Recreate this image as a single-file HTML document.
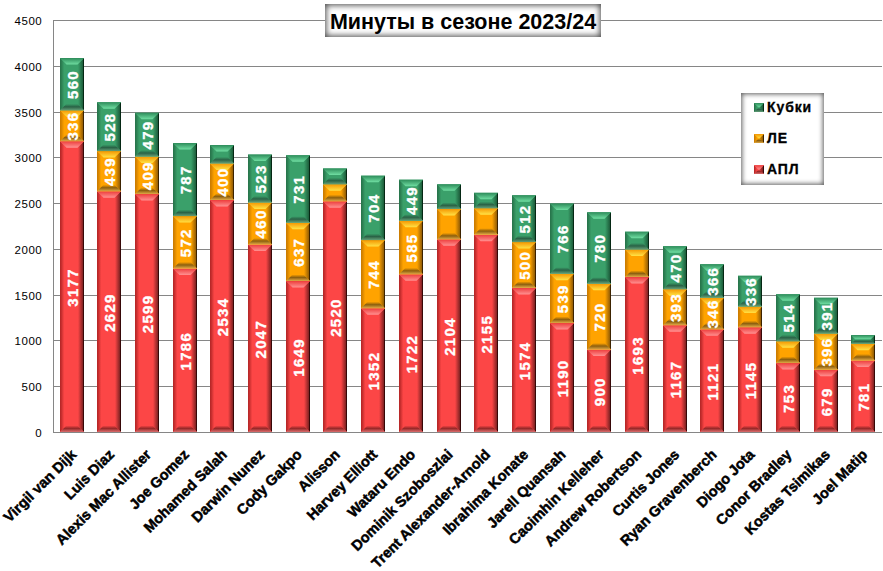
<!DOCTYPE html>
<html><head><meta charset="utf-8"><style>
html,body{margin:0;padding:0;background:#fff;}
body{width:883px;height:571px;overflow:hidden;position:relative;font-family:"Liberation Sans",sans-serif;}
svg{position:absolute;left:0;top:0;}
.dl{font:bold 15px "Liberation Sans",sans-serif;fill:#fff;text-anchor:middle;dominant-baseline:central;letter-spacing:1.3px;stroke:#fff;stroke-width:0.35px;}
.yl{font:11.5px "Liberation Sans",sans-serif;fill:#000;text-anchor:end;letter-spacing:0.5px;}
.xl{position:absolute;white-space:nowrap;font:bold 14.5px "Liberation Sans",sans-serif;color:#000;transform-origin:100% 0;transform:rotate(-45deg);line-height:1;letter-spacing:0px;-webkit-text-stroke:0.5px #000;}
.title{position:absolute;left:325px;top:4px;width:276px;height:33px;background:#fff;box-sizing:border-box;box-shadow:inset 0 0 6px 1px rgba(0,0,0,0.75);font:bold 21.5px "Liberation Sans",sans-serif;line-height:33px;padding-top:2px;text-align:center;color:#000;}
.legend{position:absolute;left:741px;top:93px;width:83px;height:92px;background:#fff;box-shadow:inset 0 0 5px 1px rgba(0,0,0,0.65);}
.li{position:absolute;left:26px;letter-spacing:0.9px;font:bold 14px "Liberation Sans",sans-serif;color:#000;line-height:15px;-webkit-text-stroke:0.3px #000;}
</style></head><body>
<svg width="883" height="571" viewBox="0 0 883 571">
<defs><linearGradient id="tr" x1="0" y1="0" x2="0" y2="1"><stop offset="0" stop-color="rgb(238,60,60)"/><stop offset="1" stop-color="rgb(255,145,145)"/></linearGradient>
<linearGradient id="br" x1="0" y1="0" x2="0" y2="1"><stop offset="0" stop-color="rgb(252,70,70)"/><stop offset="0.45" stop-color="rgb(150,40,40)"/><stop offset="1" stop-color="rgb(220,110,110)"/></linearGradient>
<linearGradient id="rr" x1="0" y1="0" x2="1" y2="0"><stop offset="0" stop-color="rgb(252,70,70)"/><stop offset="0.8" stop-color="rgb(130,35,35)"/><stop offset="0.84" stop-color="rgb(55,8,8)"/><stop offset="1" stop-color="rgb(55,8,8)"/></linearGradient>
<linearGradient id="lr" x1="0" y1="0" x2="1" y2="0"><stop offset="0" stop-color="rgb(185,40,40)"/><stop offset="0.12" stop-color="rgb(185,40,40)"/><stop offset="0.65" stop-color="rgb(252,70,70)"/><stop offset="1" stop-color="rgb(252,70,70)"/></linearGradient><linearGradient id="to" x1="0" y1="0" x2="0" y2="1"><stop offset="0" stop-color="rgb(245,150,0)"/><stop offset="1" stop-color="rgb(255,226,70)"/></linearGradient>
<linearGradient id="bo" x1="0" y1="0" x2="0" y2="1"><stop offset="0" stop-color="rgb(255,163,0)"/><stop offset="0.45" stop-color="rgb(140,95,15)"/><stop offset="1" stop-color="rgb(225,170,70)"/></linearGradient>
<linearGradient id="ro" x1="0" y1="0" x2="1" y2="0"><stop offset="0" stop-color="rgb(255,163,0)"/><stop offset="0.8" stop-color="rgb(150,95,5)"/><stop offset="0.84" stop-color="rgb(60,35,0)"/><stop offset="1" stop-color="rgb(60,35,0)"/></linearGradient>
<linearGradient id="lo" x1="0" y1="0" x2="1" y2="0"><stop offset="0" stop-color="rgb(205,125,0)"/><stop offset="0.12" stop-color="rgb(205,125,0)"/><stop offset="0.65" stop-color="rgb(255,163,0)"/><stop offset="1" stop-color="rgb(255,163,0)"/></linearGradient><linearGradient id="tg" x1="0" y1="0" x2="0" y2="1"><stop offset="0" stop-color="rgb(45,140,90)"/><stop offset="1" stop-color="rgb(112,222,162)"/></linearGradient>
<linearGradient id="bg" x1="0" y1="0" x2="0" y2="1"><stop offset="0" stop-color="rgb(58,160,106)"/><stop offset="0.45" stop-color="rgb(42,98,70)"/><stop offset="1" stop-color="rgb(100,160,120)"/></linearGradient>
<linearGradient id="rg" x1="0" y1="0" x2="1" y2="0"><stop offset="0" stop-color="rgb(58,160,106)"/><stop offset="0.8" stop-color="rgb(30,95,60)"/><stop offset="0.84" stop-color="rgb(5,40,20)"/><stop offset="1" stop-color="rgb(5,40,20)"/></linearGradient>
<linearGradient id="lg" x1="0" y1="0" x2="1" y2="0"><stop offset="0" stop-color="rgb(40,118,76)"/><stop offset="0.12" stop-color="rgb(40,118,76)"/><stop offset="0.65" stop-color="rgb(58,160,106)"/><stop offset="1" stop-color="rgb(58,160,106)"/></linearGradient></defs>
<line x1="53" y1="432.50" x2="882" y2="432.50" stroke="#868686" stroke-width="1"/><line x1="53" y1="386.50" x2="882" y2="386.50" stroke="#868686" stroke-width="1"/><line x1="53" y1="340.50" x2="882" y2="340.50" stroke="#868686" stroke-width="1"/><line x1="53" y1="295.50" x2="882" y2="295.50" stroke="#868686" stroke-width="1"/><line x1="53" y1="249.50" x2="882" y2="249.50" stroke="#868686" stroke-width="1"/><line x1="53" y1="203.50" x2="882" y2="203.50" stroke="#868686" stroke-width="1"/><line x1="53" y1="157.50" x2="882" y2="157.50" stroke="#868686" stroke-width="1"/><line x1="53" y1="112.50" x2="882" y2="112.50" stroke="#868686" stroke-width="1"/><line x1="53" y1="66.50" x2="882" y2="66.50" stroke="#868686" stroke-width="1"/><line x1="53" y1="20.50" x2="882" y2="20.50" stroke="#868686" stroke-width="1"/><line x1="53.5" y1="20" x2="53.5" y2="433" stroke="#868686" stroke-width="1"/><rect x="60.00" y="141.13" width="24.00" height="290.87" fill="rgb(252,70,70)"/><polygon points="60.00,141.13 66.50,147.63 66.50,425.50 60.00,432.00" fill="url(#lr)"/><polygon points="84.00,141.13 78.00,147.13 78.00,426.00 84.00,432.00" fill="url(#rr)"/><polygon points="60.00,141.13 84.00,141.13 77.50,147.63 66.50,147.63" fill="url(#tr)"/><polygon points="60.00,432.00 84.00,432.00 77.50,425.50 66.50,425.50" fill="url(#br)"/><rect x="60.00" y="110.37" width="24.00" height="30.76" fill="rgb(255,163,0)"/><polygon points="60.00,110.37 66.50,116.87 66.50,134.63 60.00,141.13" fill="url(#lo)"/><polygon points="84.00,110.37 78.00,116.37 78.00,135.13 84.00,141.13" fill="url(#ro)"/><polygon points="60.00,110.37 84.00,110.37 77.50,116.87 66.50,116.87" fill="url(#to)"/><polygon points="60.00,141.13 84.00,141.13 77.50,134.63 66.50,134.63" fill="url(#bo)"/><rect x="60.00" y="58.09" width="24.00" height="52.28" fill="rgb(58,160,106)"/><polygon points="60.00,58.09 66.50,64.59 66.50,103.87 60.00,110.37" fill="url(#lg)"/><polygon points="84.00,58.09 78.00,64.09 78.00,104.37 84.00,110.37" fill="url(#rg)"/><polygon points="60.00,58.09 84.00,58.09 77.50,64.59 66.50,64.59" fill="url(#tg)"/><polygon points="60.00,110.37 84.00,110.37 77.50,103.87 66.50,103.87" fill="url(#bg)"/><rect x="97.00" y="191.30" width="24.00" height="240.70" fill="rgb(252,70,70)"/><polygon points="97.00,191.30 103.50,197.80 103.50,425.50 97.00,432.00" fill="url(#lr)"/><polygon points="121.00,191.30 115.00,197.30 115.00,426.00 121.00,432.00" fill="url(#rr)"/><polygon points="97.00,191.30 121.00,191.30 114.50,197.80 103.50,197.80" fill="url(#tr)"/><polygon points="97.00,432.00 121.00,432.00 114.50,425.50 103.50,425.50" fill="url(#br)"/><rect x="97.00" y="151.11" width="24.00" height="40.19" fill="rgb(255,163,0)"/><polygon points="97.00,151.11 103.50,157.61 103.50,184.80 97.00,191.30" fill="url(#lo)"/><polygon points="121.00,151.11 115.00,157.11 115.00,185.30 121.00,191.30" fill="url(#ro)"/><polygon points="97.00,151.11 121.00,151.11 114.50,157.61 103.50,157.61" fill="url(#to)"/><polygon points="97.00,191.30 121.00,191.30 114.50,184.80 103.50,184.80" fill="url(#bo)"/><rect x="97.00" y="102.22" width="24.00" height="48.89" fill="rgb(58,160,106)"/><polygon points="97.00,102.22 103.50,108.72 103.50,144.61 97.00,151.11" fill="url(#lg)"/><polygon points="121.00,102.22 115.00,108.22 115.00,145.11 121.00,151.11" fill="url(#rg)"/><polygon points="97.00,102.22 121.00,102.22 114.50,108.72 103.50,108.72" fill="url(#tg)"/><polygon points="97.00,151.11 121.00,151.11 114.50,144.61 103.50,144.61" fill="url(#bg)"/><rect x="135.00" y="194.05" width="24.00" height="237.95" fill="rgb(252,70,70)"/><polygon points="135.00,194.05 141.50,200.55 141.50,425.50 135.00,432.00" fill="url(#lr)"/><polygon points="159.00,194.05 153.00,200.05 153.00,426.00 159.00,432.00" fill="url(#rr)"/><polygon points="135.00,194.05 159.00,194.05 152.50,200.55 141.50,200.55" fill="url(#tr)"/><polygon points="135.00,432.00 159.00,432.00 152.50,425.50 141.50,425.50" fill="url(#br)"/><rect x="135.00" y="156.60" width="24.00" height="37.45" fill="rgb(255,163,0)"/><polygon points="135.00,156.60 141.50,163.10 141.50,187.55 135.00,194.05" fill="url(#lo)"/><polygon points="159.00,156.60 153.00,162.60 153.00,188.05 159.00,194.05" fill="url(#ro)"/><polygon points="135.00,156.60 159.00,156.60 152.50,163.10 141.50,163.10" fill="url(#to)"/><polygon points="135.00,194.05 159.00,194.05 152.50,187.55 141.50,187.55" fill="url(#bo)"/><rect x="135.00" y="112.75" width="24.00" height="43.86" fill="rgb(58,160,106)"/><polygon points="135.00,112.75 141.50,119.25 141.50,150.10 135.00,156.60" fill="url(#lg)"/><polygon points="159.00,112.75 153.00,118.75 153.00,150.60 159.00,156.60" fill="url(#rg)"/><polygon points="135.00,112.75 159.00,112.75 152.50,119.25 141.50,119.25" fill="url(#tg)"/><polygon points="135.00,156.60 159.00,156.60 152.50,150.10 141.50,150.10" fill="url(#bg)"/><rect x="173.00" y="268.48" width="24.00" height="163.52" fill="rgb(252,70,70)"/><polygon points="173.00,268.48 179.50,274.98 179.50,425.50 173.00,432.00" fill="url(#lr)"/><polygon points="197.00,268.48 191.00,274.48 191.00,426.00 197.00,432.00" fill="url(#rr)"/><polygon points="173.00,268.48 197.00,268.48 190.50,274.98 179.50,274.98" fill="url(#tr)"/><polygon points="173.00,432.00 197.00,432.00 190.50,425.50 179.50,425.50" fill="url(#br)"/><rect x="173.00" y="216.11" width="24.00" height="52.37" fill="rgb(255,163,0)"/><polygon points="173.00,216.11 179.50,222.61 179.50,261.98 173.00,268.48" fill="url(#lo)"/><polygon points="197.00,216.11 191.00,222.11 191.00,262.48 197.00,268.48" fill="url(#ro)"/><polygon points="173.00,216.11 197.00,216.11 190.50,222.61 179.50,222.61" fill="url(#to)"/><polygon points="173.00,268.48 197.00,268.48 190.50,261.98 179.50,261.98" fill="url(#bo)"/><rect x="173.00" y="143.05" width="24.00" height="73.06" fill="rgb(58,160,106)"/><polygon points="173.00,143.05 179.50,149.55 179.50,209.61 173.00,216.11" fill="url(#lg)"/><polygon points="197.00,143.05 191.00,149.05 191.00,210.11 197.00,216.11" fill="url(#rg)"/><polygon points="173.00,143.05 197.00,143.05 190.50,149.55 179.50,149.55" fill="url(#tg)"/><polygon points="173.00,216.11 197.00,216.11 190.50,209.61 179.50,209.61" fill="url(#bg)"/><rect x="210.00" y="200.00" width="24.00" height="232.00" fill="rgb(252,70,70)"/><polygon points="210.00,200.00 216.50,206.50 216.50,425.50 210.00,432.00" fill="url(#lr)"/><polygon points="234.00,200.00 228.00,206.00 228.00,426.00 234.00,432.00" fill="url(#rr)"/><polygon points="210.00,200.00 234.00,200.00 227.50,206.50 216.50,206.50" fill="url(#tr)"/><polygon points="210.00,432.00 234.00,432.00 227.50,425.50 216.50,425.50" fill="url(#br)"/><rect x="210.00" y="163.38" width="24.00" height="36.62" fill="rgb(255,163,0)"/><polygon points="210.00,163.38 216.50,169.88 216.50,193.50 210.00,200.00" fill="url(#lo)"/><polygon points="234.00,163.38 228.00,169.38 228.00,194.00 234.00,200.00" fill="url(#ro)"/><polygon points="210.00,163.38 234.00,163.38 227.50,169.88 216.50,169.88" fill="url(#to)"/><polygon points="210.00,200.00 234.00,200.00 227.50,193.50 216.50,193.50" fill="url(#bo)"/><rect x="210.00" y="145.06" width="24.00" height="18.31" fill="rgb(58,160,106)"/><polygon points="210.00,145.06 216.50,151.56 216.50,156.88 210.00,163.38" fill="url(#lg)"/><polygon points="234.00,145.06 228.00,151.06 228.00,157.38 234.00,163.38" fill="url(#rg)"/><polygon points="210.00,145.06 234.00,145.06 227.50,151.56 216.50,151.56" fill="url(#tg)"/><polygon points="210.00,163.38 234.00,163.38 227.50,156.88 216.50,156.88" fill="url(#bg)"/><rect x="248.00" y="244.59" width="24.00" height="187.41" fill="rgb(252,70,70)"/><polygon points="248.00,244.59 254.50,251.09 254.50,425.50 248.00,432.00" fill="url(#lr)"/><polygon points="272.00,244.59 266.00,250.59 266.00,426.00 272.00,432.00" fill="url(#rr)"/><polygon points="248.00,244.59 272.00,244.59 265.50,251.09 254.50,251.09" fill="url(#tr)"/><polygon points="248.00,432.00 272.00,432.00 265.50,425.50 254.50,425.50" fill="url(#br)"/><rect x="248.00" y="202.47" width="24.00" height="42.12" fill="rgb(255,163,0)"/><polygon points="248.00,202.47 254.50,208.97 254.50,238.09 248.00,244.59" fill="url(#lo)"/><polygon points="272.00,202.47 266.00,208.47 266.00,238.59 272.00,244.59" fill="url(#ro)"/><polygon points="248.00,202.47 272.00,202.47 265.50,208.97 254.50,208.97" fill="url(#to)"/><polygon points="248.00,244.59 272.00,244.59 265.50,238.09 254.50,238.09" fill="url(#bo)"/><rect x="248.00" y="154.59" width="24.00" height="47.88" fill="rgb(58,160,106)"/><polygon points="248.00,154.59 254.50,161.09 254.50,195.97 248.00,202.47" fill="url(#lg)"/><polygon points="272.00,154.59 266.00,160.59 266.00,196.47 272.00,202.47" fill="url(#rg)"/><polygon points="248.00,154.59 272.00,154.59 265.50,161.09 254.50,161.09" fill="url(#tg)"/><polygon points="248.00,202.47 272.00,202.47 265.50,195.97 254.50,195.97" fill="url(#bg)"/><rect x="286.00" y="281.02" width="24.00" height="150.98" fill="rgb(252,70,70)"/><polygon points="286.00,281.02 292.50,287.52 292.50,425.50 286.00,432.00" fill="url(#lr)"/><polygon points="310.00,281.02 304.00,287.02 304.00,426.00 310.00,432.00" fill="url(#rr)"/><polygon points="286.00,281.02 310.00,281.02 303.50,287.52 292.50,287.52" fill="url(#tr)"/><polygon points="286.00,432.00 310.00,432.00 303.50,425.50 292.50,425.50" fill="url(#br)"/><rect x="286.00" y="222.70" width="24.00" height="58.32" fill="rgb(255,163,0)"/><polygon points="286.00,222.70 292.50,229.20 292.50,274.52 286.00,281.02" fill="url(#lo)"/><polygon points="310.00,222.70 304.00,228.70 304.00,275.02 310.00,281.02" fill="url(#ro)"/><polygon points="286.00,222.70 310.00,222.70 303.50,229.20 292.50,229.20" fill="url(#to)"/><polygon points="286.00,281.02 310.00,281.02 303.50,274.52 292.50,274.52" fill="url(#bo)"/><rect x="286.00" y="155.23" width="24.00" height="67.48" fill="rgb(58,160,106)"/><polygon points="286.00,155.23 292.50,161.73 292.50,216.20 286.00,222.70" fill="url(#lg)"/><polygon points="310.00,155.23 304.00,161.23 304.00,216.70 310.00,222.70" fill="url(#rg)"/><polygon points="286.00,155.23 310.00,155.23 303.50,161.73 292.50,161.73" fill="url(#tg)"/><polygon points="286.00,222.70 310.00,222.70 303.50,216.20 292.50,216.20" fill="url(#bg)"/><rect x="323.00" y="201.28" width="24.00" height="230.72" fill="rgb(252,70,70)"/><polygon points="323.00,201.28 329.50,207.78 329.50,425.50 323.00,432.00" fill="url(#lr)"/><polygon points="347.00,201.28 341.00,207.28 341.00,426.00 347.00,432.00" fill="url(#rr)"/><polygon points="323.00,201.28 347.00,201.28 340.50,207.78 329.50,207.78" fill="url(#tr)"/><polygon points="323.00,432.00 347.00,432.00 340.50,425.50 329.50,425.50" fill="url(#br)"/><rect x="323.00" y="184.25" width="24.00" height="17.03" fill="rgb(255,163,0)"/><polygon points="323.00,184.25 329.50,190.75 329.50,194.78 323.00,201.28" fill="url(#lo)"/><polygon points="347.00,184.25 341.00,190.25 341.00,195.28 347.00,201.28" fill="url(#ro)"/><polygon points="323.00,184.25 347.00,184.25 340.50,190.75 329.50,190.75" fill="url(#to)"/><polygon points="323.00,201.28 347.00,201.28 340.50,194.78 329.50,194.78" fill="url(#bo)"/><rect x="323.00" y="168.41" width="24.00" height="15.84" fill="rgb(58,160,106)"/><polygon points="323.00,168.41 329.50,174.91 329.50,177.75 323.00,184.25" fill="url(#lg)"/><polygon points="347.00,168.41 341.00,174.41 341.00,178.25 347.00,184.25" fill="url(#rg)"/><polygon points="323.00,168.41 347.00,168.41 340.50,174.91 329.50,174.91" fill="url(#tg)"/><polygon points="323.00,184.25 347.00,184.25 340.50,177.75 329.50,177.75" fill="url(#bg)"/><rect x="361.00" y="308.22" width="24.00" height="123.78" fill="rgb(252,70,70)"/><polygon points="361.00,308.22 367.50,314.72 367.50,425.50 361.00,432.00" fill="url(#lr)"/><polygon points="385.00,308.22 379.00,314.22 379.00,426.00 385.00,432.00" fill="url(#rr)"/><polygon points="361.00,308.22 385.00,308.22 378.50,314.72 367.50,314.72" fill="url(#tr)"/><polygon points="361.00,432.00 385.00,432.00 378.50,425.50 367.50,425.50" fill="url(#br)"/><rect x="361.00" y="240.10" width="24.00" height="68.12" fill="rgb(255,163,0)"/><polygon points="361.00,240.10 367.50,246.60 367.50,301.72 361.00,308.22" fill="url(#lo)"/><polygon points="385.00,240.10 379.00,246.10 379.00,302.22 385.00,308.22" fill="url(#ro)"/><polygon points="361.00,240.10 385.00,240.10 378.50,246.60 367.50,246.60" fill="url(#to)"/><polygon points="361.00,308.22 385.00,308.22 378.50,301.72 367.50,301.72" fill="url(#bo)"/><rect x="361.00" y="175.64" width="24.00" height="64.46" fill="rgb(58,160,106)"/><polygon points="361.00,175.64 367.50,182.14 367.50,233.60 361.00,240.10" fill="url(#lg)"/><polygon points="385.00,175.64 379.00,181.64 379.00,234.10 385.00,240.10" fill="url(#rg)"/><polygon points="361.00,175.64 385.00,175.64 378.50,182.14 367.50,182.14" fill="url(#tg)"/><polygon points="361.00,240.10 385.00,240.10 378.50,233.60 367.50,233.60" fill="url(#bg)"/><rect x="399.00" y="274.34" width="24.00" height="157.66" fill="rgb(252,70,70)"/><polygon points="399.00,274.34 405.50,280.84 405.50,425.50 399.00,432.00" fill="url(#lr)"/><polygon points="423.00,274.34 417.00,280.34 417.00,426.00 423.00,432.00" fill="url(#rr)"/><polygon points="399.00,274.34 423.00,274.34 416.50,280.84 405.50,280.84" fill="url(#tr)"/><polygon points="399.00,432.00 423.00,432.00 416.50,425.50 405.50,425.50" fill="url(#br)"/><rect x="399.00" y="220.78" width="24.00" height="53.56" fill="rgb(255,163,0)"/><polygon points="399.00,220.78 405.50,227.28 405.50,267.84 399.00,274.34" fill="url(#lo)"/><polygon points="423.00,220.78 417.00,226.78 417.00,268.34 423.00,274.34" fill="url(#ro)"/><polygon points="399.00,220.78 423.00,220.78 416.50,227.28 405.50,227.28" fill="url(#to)"/><polygon points="399.00,274.34 423.00,274.34 416.50,267.84 405.50,267.84" fill="url(#bo)"/><rect x="399.00" y="179.67" width="24.00" height="41.11" fill="rgb(58,160,106)"/><polygon points="399.00,179.67 405.50,186.17 405.50,214.28 399.00,220.78" fill="url(#lg)"/><polygon points="423.00,179.67 417.00,185.67 417.00,214.78 423.00,220.78" fill="url(#rg)"/><polygon points="399.00,179.67 423.00,179.67 416.50,186.17 405.50,186.17" fill="url(#tg)"/><polygon points="399.00,220.78 423.00,220.78 416.50,214.28 405.50,214.28" fill="url(#bg)"/><rect x="437.00" y="239.37" width="24.00" height="192.63" fill="rgb(252,70,70)"/><polygon points="437.00,239.37 443.50,245.87 443.50,425.50 437.00,432.00" fill="url(#lr)"/><polygon points="461.00,239.37 455.00,245.37 455.00,426.00 461.00,432.00" fill="url(#rr)"/><polygon points="437.00,239.37 461.00,239.37 454.50,245.87 443.50,245.87" fill="url(#tr)"/><polygon points="437.00,432.00 461.00,432.00 454.50,425.50 443.50,425.50" fill="url(#br)"/><rect x="437.00" y="208.97" width="24.00" height="30.40" fill="rgb(255,163,0)"/><polygon points="437.00,208.97 443.50,215.47 443.50,232.87 437.00,239.37" fill="url(#lo)"/><polygon points="461.00,208.97 455.00,214.97 455.00,233.37 461.00,239.37" fill="url(#ro)"/><polygon points="437.00,208.97 461.00,208.97 454.50,215.47 443.50,215.47" fill="url(#to)"/><polygon points="437.00,239.37 461.00,239.37 454.50,232.87 443.50,232.87" fill="url(#bo)"/><rect x="437.00" y="184.34" width="24.00" height="24.63" fill="rgb(58,160,106)"/><polygon points="437.00,184.34 443.50,190.84 443.50,202.47 437.00,208.97" fill="url(#lg)"/><polygon points="461.00,184.34 455.00,190.34 455.00,202.97 461.00,208.97" fill="url(#rg)"/><polygon points="437.00,184.34 461.00,184.34 454.50,190.84 443.50,190.84" fill="url(#tg)"/><polygon points="437.00,208.97 461.00,208.97 454.50,202.47 443.50,202.47" fill="url(#bg)"/><rect x="474.00" y="234.70" width="24.00" height="197.30" fill="rgb(252,70,70)"/><polygon points="474.00,234.70 480.50,241.20 480.50,425.50 474.00,432.00" fill="url(#lr)"/><polygon points="498.00,234.70 492.00,240.70 492.00,426.00 498.00,432.00" fill="url(#rr)"/><polygon points="474.00,234.70 498.00,234.70 491.50,241.20 480.50,241.20" fill="url(#tr)"/><polygon points="474.00,432.00 498.00,432.00 491.50,425.50 480.50,425.50" fill="url(#br)"/><rect x="474.00" y="208.15" width="24.00" height="26.55" fill="rgb(255,163,0)"/><polygon points="474.00,208.15 480.50,214.65 480.50,228.20 474.00,234.70" fill="url(#lo)"/><polygon points="498.00,208.15 492.00,214.15 492.00,228.70 498.00,234.70" fill="url(#ro)"/><polygon points="474.00,208.15 498.00,208.15 491.50,214.65 480.50,214.65" fill="url(#to)"/><polygon points="474.00,234.70 498.00,234.70 491.50,228.20 480.50,228.20" fill="url(#bo)"/><rect x="474.00" y="192.86" width="24.00" height="15.29" fill="rgb(58,160,106)"/><polygon points="474.00,192.86 480.50,199.36 480.50,201.65 474.00,208.15" fill="url(#lg)"/><polygon points="498.00,192.86 492.00,198.86 492.00,202.15 498.00,208.15" fill="url(#rg)"/><polygon points="474.00,192.86 498.00,192.86 491.50,199.36 480.50,199.36" fill="url(#tg)"/><polygon points="474.00,208.15 498.00,208.15 491.50,201.65 480.50,201.65" fill="url(#bg)"/><rect x="512.00" y="287.89" width="24.00" height="144.11" fill="rgb(252,70,70)"/><polygon points="512.00,287.89 518.50,294.39 518.50,425.50 512.00,432.00" fill="url(#lr)"/><polygon points="536.00,287.89 530.00,293.89 530.00,426.00 536.00,432.00" fill="url(#rr)"/><polygon points="512.00,287.89 536.00,287.89 529.50,294.39 518.50,294.39" fill="url(#tr)"/><polygon points="512.00,432.00 536.00,432.00 529.50,425.50 518.50,425.50" fill="url(#br)"/><rect x="512.00" y="242.11" width="24.00" height="45.78" fill="rgb(255,163,0)"/><polygon points="512.00,242.11 518.50,248.61 518.50,281.39 512.00,287.89" fill="url(#lo)"/><polygon points="536.00,242.11 530.00,248.11 530.00,281.89 536.00,287.89" fill="url(#ro)"/><polygon points="512.00,242.11 536.00,242.11 529.50,248.61 518.50,248.61" fill="url(#to)"/><polygon points="512.00,287.89 536.00,287.89 529.50,281.39 518.50,281.39" fill="url(#bo)"/><rect x="512.00" y="195.24" width="24.00" height="46.88" fill="rgb(58,160,106)"/><polygon points="512.00,195.24 518.50,201.74 518.50,235.61 512.00,242.11" fill="url(#lg)"/><polygon points="536.00,195.24 530.00,201.24 530.00,236.11 536.00,242.11" fill="url(#rg)"/><polygon points="512.00,195.24 536.00,195.24 529.50,201.74 518.50,201.74" fill="url(#tg)"/><polygon points="512.00,242.11 536.00,242.11 529.50,235.61 518.50,235.61" fill="url(#bg)"/><rect x="550.00" y="323.05" width="24.00" height="108.95" fill="rgb(252,70,70)"/><polygon points="550.00,323.05 556.50,329.55 556.50,425.50 550.00,432.00" fill="url(#lr)"/><polygon points="574.00,323.05 568.00,329.05 568.00,426.00 574.00,432.00" fill="url(#rr)"/><polygon points="550.00,323.05 574.00,323.05 567.50,329.55 556.50,329.55" fill="url(#tr)"/><polygon points="550.00,432.00 574.00,432.00 567.50,425.50 556.50,425.50" fill="url(#br)"/><rect x="550.00" y="273.70" width="24.00" height="49.35" fill="rgb(255,163,0)"/><polygon points="550.00,273.70 556.50,280.20 556.50,316.55 550.00,323.05" fill="url(#lo)"/><polygon points="574.00,273.70 568.00,279.70 568.00,317.05 574.00,323.05" fill="url(#ro)"/><polygon points="550.00,273.70 574.00,273.70 567.50,280.20 556.50,280.20" fill="url(#to)"/><polygon points="550.00,323.05 574.00,323.05 567.50,316.55 556.50,316.55" fill="url(#bo)"/><rect x="550.00" y="203.57" width="24.00" height="70.13" fill="rgb(58,160,106)"/><polygon points="550.00,203.57 556.50,210.07 556.50,267.20 550.00,273.70" fill="url(#lg)"/><polygon points="574.00,203.57 568.00,209.57 568.00,267.70 574.00,273.70" fill="url(#rg)"/><polygon points="550.00,203.57 574.00,203.57 567.50,210.07 556.50,210.07" fill="url(#tg)"/><polygon points="550.00,273.70 574.00,273.70 567.50,267.20 556.50,267.20" fill="url(#bg)"/><rect x="587.00" y="349.60" width="24.00" height="82.40" fill="rgb(252,70,70)"/><polygon points="587.00,349.60 593.50,356.10 593.50,425.50 587.00,432.00" fill="url(#lr)"/><polygon points="611.00,349.60 605.00,355.60 605.00,426.00 611.00,432.00" fill="url(#rr)"/><polygon points="587.00,349.60 611.00,349.60 604.50,356.10 593.50,356.10" fill="url(#tr)"/><polygon points="587.00,432.00 611.00,432.00 604.50,425.50 593.50,425.50" fill="url(#br)"/><rect x="587.00" y="283.68" width="24.00" height="65.92" fill="rgb(255,163,0)"/><polygon points="587.00,283.68 593.50,290.18 593.50,343.10 587.00,349.60" fill="url(#lo)"/><polygon points="611.00,283.68 605.00,289.68 605.00,343.60 611.00,349.60" fill="url(#ro)"/><polygon points="587.00,283.68 611.00,283.68 604.50,290.18 593.50,290.18" fill="url(#to)"/><polygon points="587.00,349.60 611.00,349.60 604.50,343.10 593.50,343.10" fill="url(#bo)"/><rect x="587.00" y="212.27" width="24.00" height="71.41" fill="rgb(58,160,106)"/><polygon points="587.00,212.27 593.50,218.77 593.50,277.18 587.00,283.68" fill="url(#lg)"/><polygon points="611.00,212.27 605.00,218.27 605.00,277.68 611.00,283.68" fill="url(#rg)"/><polygon points="587.00,212.27 611.00,212.27 604.50,218.77 593.50,218.77" fill="url(#tg)"/><polygon points="587.00,283.68 611.00,283.68 604.50,277.18 593.50,277.18" fill="url(#bg)"/><rect x="625.00" y="277.00" width="24.00" height="155.00" fill="rgb(252,70,70)"/><polygon points="625.00,277.00 631.50,283.50 631.50,425.50 625.00,432.00" fill="url(#lr)"/><polygon points="649.00,277.00 643.00,283.00 643.00,426.00 649.00,432.00" fill="url(#rr)"/><polygon points="625.00,277.00 649.00,277.00 642.50,283.50 631.50,283.50" fill="url(#tr)"/><polygon points="625.00,432.00 649.00,432.00 642.50,425.50 631.50,425.50" fill="url(#br)"/><rect x="625.00" y="249.44" width="24.00" height="27.56" fill="rgb(255,163,0)"/><polygon points="625.00,249.44 631.50,255.94 631.50,270.50 625.00,277.00" fill="url(#lo)"/><polygon points="649.00,249.44 643.00,255.44 643.00,271.00 649.00,277.00" fill="url(#ro)"/><polygon points="625.00,249.44 649.00,249.44 642.50,255.94 631.50,255.94" fill="url(#to)"/><polygon points="625.00,277.00 649.00,277.00 642.50,270.50 631.50,270.50" fill="url(#bo)"/><rect x="625.00" y="231.68" width="24.00" height="17.76" fill="rgb(58,160,106)"/><polygon points="625.00,231.68 631.50,238.18 631.50,242.94 625.00,249.44" fill="url(#lg)"/><polygon points="649.00,231.68 643.00,237.68 643.00,243.44 649.00,249.44" fill="url(#rg)"/><polygon points="625.00,231.68 649.00,231.68 642.50,238.18 631.50,238.18" fill="url(#tg)"/><polygon points="625.00,249.44 649.00,249.44 642.50,242.94 631.50,242.94" fill="url(#bg)"/><rect x="663.00" y="325.15" width="24.00" height="106.85" fill="rgb(252,70,70)"/><polygon points="663.00,325.15 669.50,331.65 669.50,425.50 663.00,432.00" fill="url(#lr)"/><polygon points="687.00,325.15 681.00,331.15 681.00,426.00 687.00,432.00" fill="url(#rr)"/><polygon points="663.00,325.15 687.00,325.15 680.50,331.65 669.50,331.65" fill="url(#tr)"/><polygon points="663.00,432.00 687.00,432.00 680.50,425.50 669.50,425.50" fill="url(#br)"/><rect x="663.00" y="289.17" width="24.00" height="35.98" fill="rgb(255,163,0)"/><polygon points="663.00,289.17 669.50,295.67 669.50,318.65 663.00,325.15" fill="url(#lo)"/><polygon points="687.00,289.17 681.00,295.17 681.00,319.15 687.00,325.15" fill="url(#ro)"/><polygon points="663.00,289.17 687.00,289.17 680.50,295.67 669.50,295.67" fill="url(#to)"/><polygon points="663.00,325.15 687.00,325.15 680.50,318.65 669.50,318.65" fill="url(#bo)"/><rect x="663.00" y="246.14" width="24.00" height="43.03" fill="rgb(58,160,106)"/><polygon points="663.00,246.14 669.50,252.64 669.50,282.67 663.00,289.17" fill="url(#lg)"/><polygon points="687.00,246.14 681.00,252.14 681.00,283.17 687.00,289.17" fill="url(#rg)"/><polygon points="663.00,246.14 687.00,246.14 680.50,252.64 669.50,252.64" fill="url(#tg)"/><polygon points="663.00,289.17 687.00,289.17 680.50,282.67 669.50,282.67" fill="url(#bg)"/><rect x="700.00" y="329.37" width="24.00" height="102.63" fill="rgb(252,70,70)"/><polygon points="700.00,329.37 706.50,335.87 706.50,425.50 700.00,432.00" fill="url(#lr)"/><polygon points="724.00,329.37 718.00,335.37 718.00,426.00 724.00,432.00" fill="url(#rr)"/><polygon points="700.00,329.37 724.00,329.37 717.50,335.87 706.50,335.87" fill="url(#tr)"/><polygon points="700.00,432.00 724.00,432.00 717.50,425.50 706.50,425.50" fill="url(#br)"/><rect x="700.00" y="297.69" width="24.00" height="31.68" fill="rgb(255,163,0)"/><polygon points="700.00,297.69 706.50,304.19 706.50,322.87 700.00,329.37" fill="url(#lo)"/><polygon points="724.00,297.69 718.00,303.69 718.00,323.37 724.00,329.37" fill="url(#ro)"/><polygon points="700.00,297.69 724.00,297.69 717.50,304.19 706.50,304.19" fill="url(#to)"/><polygon points="700.00,329.37 724.00,329.37 717.50,322.87 706.50,322.87" fill="url(#bo)"/><rect x="700.00" y="264.18" width="24.00" height="33.51" fill="rgb(58,160,106)"/><polygon points="700.00,264.18 706.50,270.68 706.50,291.19 700.00,297.69" fill="url(#lg)"/><polygon points="724.00,264.18 718.00,270.18 718.00,291.69 724.00,297.69" fill="url(#rg)"/><polygon points="700.00,264.18 724.00,264.18 717.50,270.68 706.50,270.68" fill="url(#tg)"/><polygon points="700.00,297.69 724.00,297.69 717.50,291.19 706.50,291.19" fill="url(#bg)"/><rect x="738.00" y="327.17" width="24.00" height="104.83" fill="rgb(252,70,70)"/><polygon points="738.00,327.17 744.50,333.67 744.50,425.50 738.00,432.00" fill="url(#lr)"/><polygon points="762.00,327.17 756.00,333.17 756.00,426.00 762.00,432.00" fill="url(#rr)"/><polygon points="738.00,327.17 762.00,327.17 755.50,333.67 744.50,333.67" fill="url(#tr)"/><polygon points="738.00,432.00 762.00,432.00 755.50,425.50 744.50,425.50" fill="url(#br)"/><rect x="738.00" y="306.57" width="24.00" height="20.60" fill="rgb(255,163,0)"/><polygon points="738.00,306.57 744.50,313.07 744.50,320.67 738.00,327.17" fill="url(#lo)"/><polygon points="762.00,306.57 756.00,312.57 756.00,321.17 762.00,327.17" fill="url(#ro)"/><polygon points="738.00,306.57 762.00,306.57 755.50,313.07 744.50,313.07" fill="url(#to)"/><polygon points="738.00,327.17 762.00,327.17 755.50,320.67 744.50,320.67" fill="url(#bo)"/><rect x="738.00" y="275.81" width="24.00" height="30.76" fill="rgb(58,160,106)"/><polygon points="738.00,275.81 744.50,282.31 744.50,300.07 738.00,306.57" fill="url(#lg)"/><polygon points="762.00,275.81 756.00,281.81 756.00,300.57 762.00,306.57" fill="url(#rg)"/><polygon points="738.00,275.81 762.00,275.81 755.50,282.31 744.50,282.31" fill="url(#tg)"/><polygon points="738.00,306.57 762.00,306.57 755.50,300.07 744.50,300.07" fill="url(#bg)"/><rect x="776.00" y="363.06" width="24.00" height="68.94" fill="rgb(252,70,70)"/><polygon points="776.00,363.06 782.50,369.56 782.50,425.50 776.00,432.00" fill="url(#lr)"/><polygon points="800.00,363.06 794.00,369.06 794.00,426.00 800.00,432.00" fill="url(#rr)"/><polygon points="776.00,363.06 800.00,363.06 793.50,369.56 782.50,369.56" fill="url(#tr)"/><polygon points="776.00,432.00 800.00,432.00 793.50,425.50 782.50,425.50" fill="url(#br)"/><rect x="776.00" y="341.27" width="24.00" height="21.79" fill="rgb(255,163,0)"/><polygon points="776.00,341.27 782.50,347.77 782.50,356.56 776.00,363.06" fill="url(#lo)"/><polygon points="800.00,341.27 794.00,347.27 794.00,357.06 800.00,363.06" fill="url(#ro)"/><polygon points="776.00,341.27 800.00,341.27 793.50,347.77 782.50,347.77" fill="url(#to)"/><polygon points="776.00,363.06 800.00,363.06 793.50,356.56 782.50,356.56" fill="url(#bo)"/><rect x="776.00" y="294.21" width="24.00" height="47.06" fill="rgb(58,160,106)"/><polygon points="776.00,294.21 782.50,300.71 782.50,334.77 776.00,341.27" fill="url(#lg)"/><polygon points="800.00,294.21 794.00,300.21 794.00,335.27 800.00,341.27" fill="url(#rg)"/><polygon points="776.00,294.21 800.00,294.21 793.50,300.71 782.50,300.71" fill="url(#tg)"/><polygon points="776.00,341.27 800.00,341.27 793.50,334.77 782.50,334.77" fill="url(#bg)"/><rect x="814.00" y="369.83" width="24.00" height="62.17" fill="rgb(252,70,70)"/><polygon points="814.00,369.83 820.50,376.33 820.50,425.50 814.00,432.00" fill="url(#lr)"/><polygon points="838.00,369.83 832.00,375.83 832.00,426.00 838.00,432.00" fill="url(#rr)"/><polygon points="814.00,369.83 838.00,369.83 831.50,376.33 820.50,376.33" fill="url(#tr)"/><polygon points="814.00,432.00 838.00,432.00 831.50,425.50 820.50,425.50" fill="url(#br)"/><rect x="814.00" y="333.58" width="24.00" height="36.26" fill="rgb(255,163,0)"/><polygon points="814.00,333.58 820.50,340.08 820.50,363.33 814.00,369.83" fill="url(#lo)"/><polygon points="838.00,333.58 832.00,339.58 832.00,363.83 838.00,369.83" fill="url(#ro)"/><polygon points="814.00,333.58 838.00,333.58 831.50,340.08 820.50,340.08" fill="url(#to)"/><polygon points="814.00,369.83 838.00,369.83 831.50,363.33 820.50,363.33" fill="url(#bo)"/><rect x="814.00" y="297.78" width="24.00" height="35.80" fill="rgb(58,160,106)"/><polygon points="814.00,297.78 820.50,304.28 820.50,327.08 814.00,333.58" fill="url(#lg)"/><polygon points="838.00,297.78 832.00,303.78 832.00,327.58 838.00,333.58" fill="url(#rg)"/><polygon points="814.00,297.78 838.00,297.78 831.50,304.28 820.50,304.28" fill="url(#tg)"/><polygon points="814.00,333.58 838.00,333.58 831.50,327.08 820.50,327.08" fill="url(#bg)"/><rect x="851.00" y="360.50" width="24.00" height="71.50" fill="rgb(252,70,70)"/><polygon points="851.00,360.50 857.50,367.00 857.50,425.50 851.00,432.00" fill="url(#lr)"/><polygon points="875.00,360.50 869.00,366.50 869.00,426.00 875.00,432.00" fill="url(#rr)"/><polygon points="851.00,360.50 875.00,360.50 868.50,367.00 857.50,367.00" fill="url(#tr)"/><polygon points="851.00,432.00 875.00,432.00 868.50,425.50 857.50,425.50" fill="url(#br)"/><rect x="851.00" y="343.74" width="24.00" height="16.75" fill="rgb(255,163,0)"/><polygon points="851.00,343.74 857.50,350.24 857.50,354.00 851.00,360.50" fill="url(#lo)"/><polygon points="875.00,343.74 869.00,349.74 869.00,354.50 875.00,360.50" fill="url(#ro)"/><polygon points="851.00,343.74 875.00,343.74 868.50,350.24 857.50,350.24" fill="url(#to)"/><polygon points="851.00,360.50 875.00,360.50 868.50,354.00 857.50,354.00" fill="url(#bo)"/><rect x="851.00" y="335.04" width="24.00" height="8.70" fill="rgb(58,160,106)"/><polygon points="851.00,335.04 855.35,339.39 855.35,339.39 851.00,343.74" fill="url(#lg)"/><polygon points="875.00,335.04 869.00,339.39 869.00,339.39 875.00,343.74" fill="url(#rg)"/><polygon points="851.00,335.04 875.00,335.04 870.65,339.39 855.35,339.39" fill="url(#tg)"/><polygon points="851.00,343.74 875.00,343.74 870.65,339.39 855.35,339.39" fill="url(#bg)"/>
<text x="0" y="0" transform="translate(72.70,287.46) rotate(-90)" class="dl">3177</text><text x="0" y="0" transform="translate(72.70,126.15) rotate(-90)" class="dl">336</text><text x="0" y="0" transform="translate(72.70,84.53) rotate(-90)" class="dl">560</text><text x="0" y="0" transform="translate(109.70,312.55) rotate(-90)" class="dl">2629</text><text x="0" y="0" transform="translate(109.70,171.60) rotate(-90)" class="dl">439</text><text x="0" y="0" transform="translate(109.70,126.96) rotate(-90)" class="dl">528</text><text x="0" y="0" transform="translate(147.70,313.92) rotate(-90)" class="dl">2599</text><text x="0" y="0" transform="translate(147.70,175.72) rotate(-90)" class="dl">409</text><text x="0" y="0" transform="translate(147.70,134.97) rotate(-90)" class="dl">479</text><text x="0" y="0" transform="translate(185.70,351.14) rotate(-90)" class="dl">1786</text><text x="0" y="0" transform="translate(185.70,242.70) rotate(-90)" class="dl">572</text><text x="0" y="0" transform="translate(185.70,179.88) rotate(-90)" class="dl">787</text><text x="0" y="0" transform="translate(222.70,316.90) rotate(-90)" class="dl">2534</text><text x="0" y="0" transform="translate(222.70,182.09) rotate(-90)" class="dl">400</text><text x="0" y="0" transform="translate(260.70,339.19) rotate(-90)" class="dl">2047</text><text x="0" y="0" transform="translate(260.70,223.93) rotate(-90)" class="dl">460</text><text x="0" y="0" transform="translate(260.70,178.83) rotate(-90)" class="dl">523</text><text x="0" y="0" transform="translate(298.70,357.41) rotate(-90)" class="dl">1649</text><text x="0" y="0" transform="translate(298.70,252.26) rotate(-90)" class="dl">637</text><text x="0" y="0" transform="translate(298.70,189.27) rotate(-90)" class="dl">731</text><text x="0" y="0" transform="translate(335.70,317.54) rotate(-90)" class="dl">2520</text><text x="0" y="0" transform="translate(373.70,371.01) rotate(-90)" class="dl">1352</text><text x="0" y="0" transform="translate(373.70,274.56) rotate(-90)" class="dl">744</text><text x="0" y="0" transform="translate(373.70,208.17) rotate(-90)" class="dl">704</text><text x="0" y="0" transform="translate(411.70,354.07) rotate(-90)" class="dl">1722</text><text x="0" y="0" transform="translate(411.70,247.96) rotate(-90)" class="dl">585</text><text x="0" y="0" transform="translate(411.70,200.53) rotate(-90)" class="dl">449</text><text x="0" y="0" transform="translate(449.70,336.58) rotate(-90)" class="dl">2104</text><text x="0" y="0" transform="translate(486.70,334.25) rotate(-90)" class="dl">2155</text><text x="0" y="0" transform="translate(524.70,360.85) rotate(-90)" class="dl">1574</text><text x="0" y="0" transform="translate(524.70,265.40) rotate(-90)" class="dl">500</text><text x="0" y="0" transform="translate(524.70,218.98) rotate(-90)" class="dl">512</text><text x="0" y="0" transform="translate(562.70,378.42) rotate(-90)" class="dl">1190</text><text x="0" y="0" transform="translate(562.70,298.77) rotate(-90)" class="dl">539</text><text x="0" y="0" transform="translate(562.70,238.93) rotate(-90)" class="dl">766</text><text x="0" y="0" transform="translate(599.70,391.70) rotate(-90)" class="dl">900</text><text x="0" y="0" transform="translate(599.70,317.04) rotate(-90)" class="dl">720</text><text x="0" y="0" transform="translate(599.70,248.27) rotate(-90)" class="dl">780</text><text x="0" y="0" transform="translate(637.70,355.40) rotate(-90)" class="dl">1693</text><text x="0" y="0" transform="translate(675.70,379.48) rotate(-90)" class="dl">1167</text><text x="0" y="0" transform="translate(675.70,307.56) rotate(-90)" class="dl">393</text><text x="0" y="0" transform="translate(675.70,267.96) rotate(-90)" class="dl">470</text><text x="0" y="0" transform="translate(712.70,381.58) rotate(-90)" class="dl">1121</text><text x="0" y="0" transform="translate(712.70,313.93) rotate(-90)" class="dl">346</text><text x="0" y="0" transform="translate(712.70,281.23) rotate(-90)" class="dl">366</text><text x="0" y="0" transform="translate(750.70,380.48) rotate(-90)" class="dl">1145</text><text x="0" y="0" transform="translate(750.70,291.49) rotate(-90)" class="dl">336</text><text x="0" y="0" transform="translate(788.70,398.43) rotate(-90)" class="dl">753</text><text x="0" y="0" transform="translate(788.70,318.04) rotate(-90)" class="dl">514</text><text x="0" y="0" transform="translate(826.70,401.82) rotate(-90)" class="dl">679</text><text x="0" y="0" transform="translate(826.70,352.11) rotate(-90)" class="dl">396</text><text x="0" y="0" transform="translate(826.70,315.98) rotate(-90)" class="dl">391</text><text x="0" y="0" transform="translate(863.70,397.15) rotate(-90)" class="dl">781</text>
<text x="42.2" y="436.50" class="yl">0</text><text x="42.2" y="390.50" class="yl">500</text><text x="42.2" y="344.50" class="yl">1000</text><text x="42.2" y="299.50" class="yl">1500</text><text x="42.2" y="253.50" class="yl">2000</text><text x="42.2" y="207.50" class="yl">2500</text><text x="42.2" y="161.50" class="yl">3000</text><text x="42.2" y="116.50" class="yl">3500</text><text x="42.2" y="70.50" class="yl">4000</text><text x="42.2" y="24.50" class="yl">4500</text>
</svg>
<div class="xl" style="right:814.30px;top:447.3px">Virgil van Dijk</div><div class="xl" style="right:776.63px;top:447.3px">Luis Diaz</div><div class="xl" style="right:738.97px;top:447.3px">Alexis Mac Allister</div><div class="xl" style="right:701.30px;top:447.3px">Joe Gomez</div><div class="xl" style="right:663.63px;top:447.3px">Mohamed Salah</div><div class="xl" style="right:625.96px;top:447.3px">Darwin Nunez</div><div class="xl" style="right:588.30px;top:447.3px">Cody Gakpo</div><div class="xl" style="right:550.63px;top:447.3px">Alisson</div><div class="xl" style="right:512.96px;top:447.3px">Harvey Elliott</div><div class="xl" style="right:475.30px;top:447.3px">Wataru Endo</div><div class="xl" style="right:437.63px;top:447.3px">Dominik Szoboszlai</div><div class="xl" style="right:399.96px;top:447.3px">Trent Alexander-Arnold</div><div class="xl" style="right:362.30px;top:447.3px">Ibrahima Konate</div><div class="xl" style="right:324.63px;top:447.3px">Jarell Quansah</div><div class="xl" style="right:286.96px;top:447.3px">Caoimhin Kelleher</div><div class="xl" style="right:249.29px;top:447.3px">Andrew Robertson</div><div class="xl" style="right:211.63px;top:447.3px">Curtis Jones</div><div class="xl" style="right:173.96px;top:447.3px">Ryan Gravenberch</div><div class="xl" style="right:136.29px;top:447.3px">Diogo Jota</div><div class="xl" style="right:98.63px;top:447.3px">Conor Bradley</div><div class="xl" style="right:60.96px;top:447.3px">Kostas Tsimikas</div><div class="xl" style="right:23.29px;top:447.3px">Joel Matip</div>
<div class="title">Минуты в сезоне 2023/24</div>
<div class="legend">
<svg width="83" height="92" style="position:absolute;left:0;top:0">
<rect x="13.00" y="10.00" width="10.00" height="9.00" fill="rgb(58,160,106)"/><polygon points="13.00,10.00 17.50,14.50 17.50,14.50 13.00,19.00" fill="url(#lg)"/><polygon points="23.00,10.00 17.00,14.50 17.00,14.50 23.00,19.00" fill="url(#rg)"/><polygon points="13.00,10.00 23.00,10.00 18.50,14.50 17.50,14.50" fill="url(#tg)"/><polygon points="13.00,19.00 23.00,19.00 18.50,14.50 17.50,14.50" fill="url(#bg)"/>
<rect x="13.00" y="41.00" width="10.00" height="9.00" fill="rgb(255,163,0)"/><polygon points="13.00,41.00 17.50,45.50 17.50,45.50 13.00,50.00" fill="url(#lo)"/><polygon points="23.00,41.00 17.00,45.50 17.00,45.50 23.00,50.00" fill="url(#ro)"/><polygon points="13.00,41.00 23.00,41.00 18.50,45.50 17.50,45.50" fill="url(#to)"/><polygon points="13.00,50.00 23.00,50.00 18.50,45.50 17.50,45.50" fill="url(#bo)"/>
<rect x="13.00" y="72.30" width="10.00" height="8.70" fill="rgb(252,70,70)"/><polygon points="13.00,72.30 17.35,76.65 17.35,76.65 13.00,81.00" fill="url(#lr)"/><polygon points="23.00,72.30 17.00,76.65 17.00,76.65 23.00,81.00" fill="url(#rr)"/><polygon points="13.00,72.30 23.00,72.30 18.65,76.65 17.35,76.65" fill="url(#tr)"/><polygon points="13.00,81.00 23.00,81.00 18.65,76.65 17.35,76.65" fill="url(#br)"/>
</svg>
<div class="li" style="top:7px">Кубки</div>
<div class="li" style="top:38px">ЛЕ</div>
<div class="li" style="top:69px">АПЛ</div>
</div>
</body></html>
